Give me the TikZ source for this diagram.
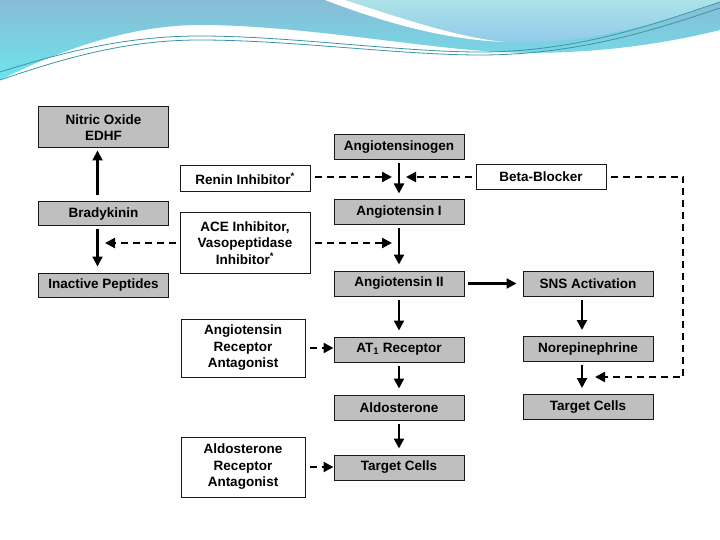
\documentclass[tikz,border=0pt]{standalone}
\usepackage{fontspec}
\setmainfont{Liberation Sans}
\usetikzlibrary{arrows.meta}
\def\boxwidth{130pt}

\begin{document}
\begin{tikzpicture}[x=1pt,y=-1pt,>={Triangle[length=10pt,width=10pt]},
	font=\bfseries\fontsize{13.5}{16.5}\selectfont]
	\tikzstyle{chain box}=[draw=black!90,line width=1pt,fill=black!25,minimum width=\boxwidth,minimum height=25pt,inner sep=0pt,align=center]
	\tikzstyle{drug box}=[chain box, fill=white]
	\tikzstyle{flow}=[->,line width=2.2pt,shorten >=6pt,shorten <=3pt]
	\tikzstyle{block}=[->,line width=2.2pt,dash pattern=on 7pt off 5pt,shorten <=4pt,shorten >=7pt]
	\tikzstyle{wave line}=[line width=0.8pt,draw={rgb,255:red,58;green,150;blue,168}]
	
	\useasboundingbox[fill=white] (0,0) rectangle (720,540);
	
	% Draw the header waves
	\shade[top color={rgb,255:red,136;green,188;blue,214},bottom color={rgb,255:red,110;green,228;blue,236}]
	(0,0) -- (720,0) -- (720,30) .. controls (640,50) and (560,55) .. (500,52)
	.. controls (420,48) and (300,25) .. (200,25) .. controls (130,25) and (60,50) .. (0,80) -- cycle;
	\shade[top color={rgb,255:red,172;green,226;blue,232},bottom color={rgb,255:red,142;green,200;blue,234}]
	(345,0) .. controls (400,18) and (460,38) .. (505,42) .. controls (570,47) and (660,25) .. (720,2) -- (720,0) -- cycle;
	\fill[white] (325,0) .. controls (390,25) and (450,40) .. (505,42) .. controls (460,38) and (400,18) .. (345,0) -- cycle;
	\draw[wave line] (0,72) .. controls (70,50) and (130,36) .. (200,36) .. controls (290,36) and (400,52) .. (480,52) .. controls (580,52) and (660,22) .. (720,2);
	\draw[wave line] (0,80) .. controls (70,56) and (130,40) .. (200,40) .. controls (290,40) and (400,55) .. (480,55) .. controls (580,55) and (660,28) .. (720,8);
	
	% Draw the bradykinin column
	\node[chain box, minimum height=41pt] (NO) at (103.5,127.5) {Nitric Oxide\\EDHF};
	\node[chain box, minimum height=24pt] (BK) at (103.5,214) {Bradykinin};
	\node[chain box, minimum height=24pt] (IP) at (103.5,285) {Inactive Peptides};
	
	% Draw the inhibitor boxes
	\node[drug box, minimum height=26pt] (RI) at (245,179) {Renin Inhibitor\textsuperscript{*}};
	\node[drug box, minimum height=60pt] (ACE) at (245,243) {ACE Inhibitor,\\Vasopeptidase\\Inhibitor\textsuperscript{*}};
	\node[drug box, minimum width=124pt, minimum height=58pt] (ARA) at (243,348) {Angiotensin\\Receptor\\Antagonist};
	\node[drug box, minimum width=124pt, minimum height=60pt] (ALRA) at (243,467) {Aldosterone\\Receptor\\Antagonist};
	
	% Draw the angiotensin chain
	\node[chain box] (AGEN) at (399,147) {Angiotensinogen};
	\node[chain box] (A1) at (399,212.5) {Angiotensin I};
	\node[chain box] (A2) at (399,283.5) {Angiotensin II};
	\node[chain box] (AT1) at (399,349.5) {AT\textsubscript{1} Receptor};
	\node[chain box] (ALD) at (399,407.5) {Aldosterone};
	\node[chain box] (TC1) at (399,467.5) {Target Cells};
	
	% Draw the sympathetic chain
	\node[drug box] (BB) at (541,177) {Beta-Blocker};
	\node[chain box] (SNS) at (588,283.5) {SNS Activation};
	\node[chain box] (NE) at (588,349) {Norepinephrine};
	\node[chain box] (TC2) at (588,407) {Target Cells};
	
	% Points where the blockers hit the arrows
	\coordinate (R) at (399,177);
	\coordinate (A) at (399,243);
	\coordinate (K) at (97,243);
	\coordinate (BC) at (683,177);
	\coordinate (N) at (582,377);
	
	% Connect the solid steps
	\draw[flow,shorten >=2pt,shorten <=6pt] ([xshift=-6pt]BK.north) -- ([xshift=-6pt]NO.south);
	\draw[flow] ([xshift=-6pt]BK.south) -- ([xshift=-6pt]IP.north);
	\draw[flow] (AGEN) -- (A1);
	\draw[flow] (A1) -- (A2);
	\draw[flow] (A2) -- (AT1);
	\draw[flow] (AT1) -- (ALD);
	\draw[flow] (ALD) -- (TC1);
	\draw[flow] (A2) -- (SNS);
	\draw[flow] ([xshift=-6pt]SNS.south) -- ([xshift=-6pt]NE.north);
	\draw[flow] ([xshift=-6pt]NE.south) -- ([xshift=-6pt]TC2.north);
	
	% Connect the blockers
	\draw[block] ([yshift=2pt]RI.east) -- (R);
	\draw[block] (BB.west) -- (R);
	\draw[block] (ACE.east) -- (A);
	\draw[block,shorten >=8pt] (ACE.west) -- (K);
	\draw[block,shorten >=0pt] (ARA.east) -- (ARA.east -| AT1.west);
	\draw[block,shorten >=0pt] (ALRA.east) -- (ALRA.east -| TC1.west);
	\draw[block,shorten >=13pt] (BB.east) -- (BC) |- (N);
	
\end{tikzpicture}
\end{document}
